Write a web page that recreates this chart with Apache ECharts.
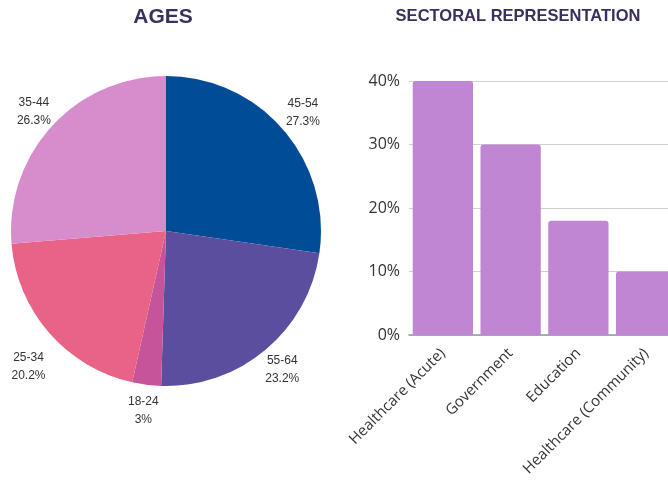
<!DOCTYPE html>
<html>
<head>
<meta charset="utf-8">
<script src="https://cdn.jsdelivr.net/npm/echarts@6/dist/echarts.min.js"></script>
<style>html,body{margin:0;padding:0;background:#fff}#c{width:668px;height:481px}</style>
</head>
<body>
<div id="c"></div>
<script>
var ageNames = ['45-54', '55-64', '18-24', '25-34', '35-44'];
var ageValues = [27.3, 23.2, 3, 20.2, 26.3];
var ageColors = ['#004C97', '#5B4E9E', '#C6549A', '#E86386', '#D78DCB'];

var sectors = ['Healthcare (Acute)', 'Government', 'Education', 'Healthcare (Community)'];
var sectorValues = [40, 30, 18, 10];
var yTicks = [0, 10, 20, 30, 40];

var pieData = ageNames.map(function (n, i) {
  return { name: n, value: ageValues[i], itemStyle: { color: ageColors[i] } };
});
var labelData = ageNames.map(function (n, i) {
  var d = { name: n, value: ageValues[i] };
  if (n === '25-34') d.label = { offset: [-1, 17] };
  if (n === '35-44') d.label = { offset: [1, 3] };
  return d;
});

var chart = echarts.init(document.getElementById('c'), null, { renderer: 'canvas' });
chart.setOption({
  animation: false,
  title: [
    { text: 'AGES', left: 158, top: 2, textAlign: 'center',
      textStyle: { fontFamily: 'Liberation Sans', fontWeight: 'bold', fontSize: 21, color: '#3B2F5C' } },
    { text: 'SECTORAL REPRESENTATION', left: 513, top: 3, textAlign: 'center',
      textStyle: { fontFamily: 'Liberation Sans', fontWeight: 'bold', fontSize: 16.5, color: '#3B2F5C' } }
  ],
  grid: { left: 409, top: 81, bottom: 146, width: 271, containLabel: false, outerBoundsMode: 'none' },
  xAxis: {
    type: 'category', data: sectors,
    axisTick: { show: false },
    axisLine: { lineStyle: { color: '#999', width: 1.5 } },
    axisLabel: { rotate: 45, fontSize: 15, color: '#333', fontFamily: 'Open Sans', interval: 0, margin: 16 }
  },
  yAxis: {
    type: 'value', min: yTicks[0], max: yTicks[yTicks.length - 1], interval: 10,
    axisLine: { show: false }, axisTick: { show: false },
    splitLine: { lineStyle: { color: '#d0d0d0' } },
    axisLabel: { formatter: '{value}%', fontSize: 16, color: '#333', fontFamily: 'Open Sans', margin: 9 }
  },
  series: [
    {
      type: 'pie', center: [166, 231], radius: [0, 155], startAngle: 90, clockwise: true,
      data: pieData, label: { show: false }, labelLine: { show: false },
      itemStyle: { borderWidth: 0 }, silent: true
    },
    {
      type: 'pie', center: [166, 231], radius: [155, 201], startAngle: 90, clockwise: true,
      data: labelData, silent: true,
      itemStyle: { color: 'rgba(0,0,0,0)' },
      label: { show: true, position: 'inside', formatter: '{b}\n{c}%', color: '#333',
        fontSize: 12, lineHeight: 18, fontFamily: 'Liberation Sans' },
      labelLine: { show: false }
    },
    {
      type: 'bar', data: sectorValues, barCategoryGap: '11%',
      itemStyle: { color: '#C086D3', borderRadius: [3, 3, 0, 0] }
    }
  ]
});
</script>
</body>
</html>
